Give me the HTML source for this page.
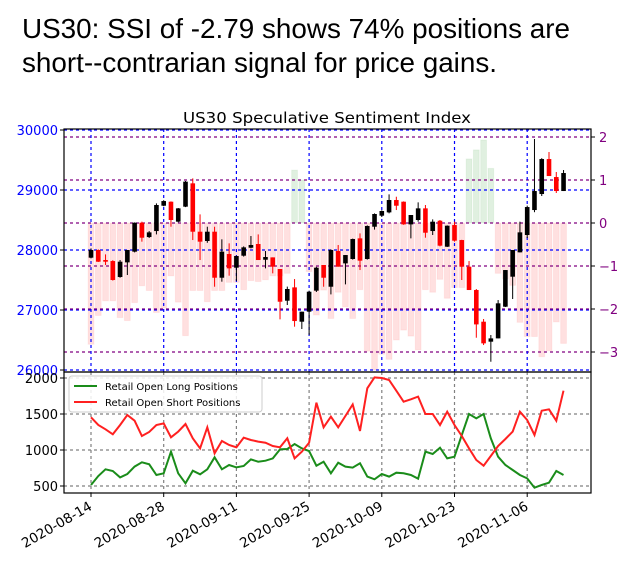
<!DOCTYPE html>
<html><head><meta charset="utf-8"><style>
html,body{margin:0;padding:0;background:#fff;}
svg{display:block;}
</style></head><body>
<svg id="chart" width="629" height="566" xmlns="http://www.w3.org/2000/svg">
<rect width="629" height="566" fill="#fff"/>
<text x="22" y="38" font-family="Liberation Sans, Arial, sans-serif" font-size="28" textLength="548" lengthAdjust="spacingAndGlyphs">US30: SSI of -2.79 shows 74% positions are</text>
<text x="22" y="72" font-family="Liberation Sans, Arial, sans-serif" font-size="28" textLength="475" lengthAdjust="spacingAndGlyphs">short--contrarian signal for price gains.</text>
<text x="327" y="123" text-anchor="middle" font-family="DejaVu Sans, sans-serif" font-size="15" textLength="288" lengthAdjust="spacingAndGlyphs">US30 Speculative Sentiment Index</text>
<g id="upper"></g>
<g id="lower"></g>
</svg>
<script>
const tickLabels = ["2020-08-14","2020-08-28","2020-09-11","2020-09-25","2020-10-09","2020-10-23","2020-11-06"];
const tickIdx = [0,10,20,30,40,50,60];
const priceTicks = [30000,29000,28000,27000,26000];
const ssiTicks = [2,1,0,-1,-2,-3];
const posTicks = [2000,1500,1000,500];
const opens = [27872,28000,27833,27816,27550,27794,27972,28455,28216,28316,28738,28805,28472,28722,29111,28305,28150,28305,27538,27933,27705,27905,28038,28100,27838,27877,27683,27155,27377,26805,26972,27322,27750,27388,27983,27777,27850,28194,27850,28388,28572,28627,28833,28805,28427,28500,28694,28316,28488,28055,28416,28166,27722,27333,26805,26472,26527,27055,27555,27961,28250,28666,28933,29516,29216,28983];
const closes = [28000,27805,27805,27500,27805,28000,28455,28205,28294,28750,28816,28500,28694,29139,28305,28139,28305,27538,27972,27694,27900,28044,28083,27833,27883,27722,27138,27350,26816,26972,27305,27705,27538,28000,27722,27916,28183,27822,28400,28600,28650,28833,28738,28427,28583,28694,28288,28472,28072,28405,28155,27722,27333,26760,26444,26527,27111,27666,28000,28294,28716,28983,29516,29233,28983,29283];
const highs = [28027,28010,27927,27830,27833,28000,28460,28472,28316,28777,28830,28810,28700,29150,29194,28594,28388,28388,28178,28111,27905,28060,28233,28260,27983,27877,27683,27390,27516,26972,27322,27720,27750,28010,28083,27916,28190,28277,28410,28610,28660,28927,28888,28810,28583,28794,28750,28510,28500,28410,28472,28170,27816,27350,26850,26583,27166,27666,28000,28472,28740,29850,29530,29633,29300,29333];
const lows = [27861,27800,27750,27490,27538,27583,27960,28139,28200,28260,28730,28388,28460,28715,28166,27833,28120,27388,27472,27572,27483,27890,28027,27833,27694,27611,26844,27083,26722,26683,26583,27300,27388,27260,27722,27427,27840,27666,27840,28340,28550,28611,28666,28420,28194,28472,28205,28250,28060,28050,28139,27500,27333,26538,26416,26138,26527,27050,27183,27961,28200,28630,28900,29233,28950,28983];
const ssi = [-2.82,-2.15,-1.81,-1.81,-2.20,-2.27,-1.85,-1.46,-1.57,-2.08,-1.98,-1.23,-1.84,-2.62,-1.57,-1.57,-1.83,-1.57,-1.57,-1.38,-1.38,-1.55,-1.34,-1.36,-1.32,-1.23,-1.23,-1.17,1.23,1.0,-1.13,-2.14,-1.56,-2.22,-1.61,-1.95,-2.22,-1.55,-2.98,-3.42,-3.05,-3.17,-2.72,-2.49,-2.63,-2.95,-1.55,-1.61,-1.31,-1.75,-1.50,-1.50,1.49,1.70,1.93,1.27,-1.17,-1.30,-1.45,-2.31,-2.64,-2.64,-3.11,-2.97,-2.30,-2.80];
const longPos = [514,639,732,708,620,667,769,829,801,653,676,977,676,537,713,662,732,898,732,792,759,778,870,838,852,884,1009,1014,1083,1023,986,782,838,676,824,769,755,815,630,593,667,630,685,676,653,602,977,944,1032,884,907,1208,1500,1440,1500,1162,907,792,722,653,606,477,514,546,708,653];
const shortPos = [1454,1347,1287,1218,1347,1486,1407,1194,1250,1347,1370,1176,1255,1361,1162,1023,1315,954,1125,1069,1037,1171,1139,1116,1102,1055,1037,1162,884,977,1102,1657,1315,1463,1315,1472,1634,1264,1857,2009,2000,1972,1824,1671,1704,1741,1500,1500,1347,1532,1347,1194,1023,861,782,917,1055,1153,1255,1532,1417,1208,1546,1565,1407,1824];

const NS="http://www.w3.org/2000/svg";
const X0=64,X1=591,UT=129,UB=372,LB=493;
function xs(i){return 91+7.27*i;}
function yp(p){return 250-(p-28000)*0.06;}
function ys(s){return 223-43*s;}
function yl(v){return 486-(v-500)*0.072;}
function mk(parent,tag,attrs){const e=document.createElementNS(NS,tag);for(const k in attrs)e.setAttribute(k,attrs[k]);parent.appendChild(e);return e;}
const up=document.getElementById('upper'), lo=document.getElementById('lower');

ssi.forEach((s,i)=>{
  const y0=ys(0),y1=ys(s);
  const r=mk(up,'rect',{x:xs(i)-2.9,y:Math.min(y0,y1),width:5.8,height:Math.abs(y1-y0),fill:s<0?'rgba(255,0,0,0.12)':'rgba(0,128,0,0.12)',stroke:s<0?'rgba(255,0,0,0.06)':'rgba(0,128,0,0.06)'});
  
  
});
priceTicks.forEach(p=>{
  const l=mk(up,'line',{x1:X0,x2:X1,y1:yp(p),y2:yp(p),stroke:'#0000ff','stroke-width':1.2,'stroke-dasharray':'3,3'});
  
  
  const t=mk(up,'text',{x:58,y:yp(p)+5,'text-anchor':'end',fill:'#0000ff','font-family':'DejaVu Sans, sans-serif','font-size':13});
  t.textContent=p;
  
  
  mk(up,'line',{x1:X0-4,x2:X0,y1:yp(p),y2:yp(p),stroke:'#000'});
});
ssiTicks.forEach(s=>{
  const l=mk(up,'line',{x1:X0,x2:X1,y1:ys(s),y2:ys(s),stroke:'#800080','stroke-width':1.2,'stroke-dasharray':'3,3'});
  
  
  const t=mk(up,'text',{x:599,y:ys(s)+5,fill:'#800080','font-family':'DejaVu Sans, sans-serif','font-size':13});
  t.textContent=s<0?'\u2212'+(-s):s;
  
  
  mk(up,'line',{x1:X1,x2:X1+4,y1:ys(s),y2:ys(s),stroke:'#000'});
});
tickIdx.forEach((ix,k)=>{
  const x=xs(ix);
  const l=mk(up,'line',{x1:x,x2:x,y1:UT,y2:UB,stroke:'#0000ff','stroke-width':1.2,'stroke-dasharray':'3,3'});
  
  
  const l2=mk(lo,'line',{x1:x,x2:x,y1:UB,y2:LB,stroke:'#808080','stroke-width':1.2,'stroke-dasharray':'3,3'});
  
  
  mk(lo,'line',{x1:x,x2:x,y1:LB,y2:LB+4,stroke:'#000'});
  const t=mk(lo,'text',{x:x+2,y:LB+16,'text-anchor':'end',transform:`rotate(-30 ${x+2} ${LB+16})`,'font-family':'DejaVu Sans, sans-serif','font-size':13.5});
  t.textContent=tickLabels[k];
  
  
});
opens.forEach((o,i)=>{
  const c=closes[i],x=xs(i),col=c>=o?'#000':'#ff0000';
  const w=mk(up,'line',{x1:x,x2:x,y1:yp(highs[i]),y2:yp(lows[i]),stroke:col,'stroke-width':1});
  
  
  const top=yp(Math.max(o,c)),h=Math.max(1,Math.abs(yp(o)-yp(c)));
  const b=mk(up,'rect',{x:x-2.3,y:top,width:4.6,height:h,fill:col});
  
  
});
mk(up,'rect',{x:X0,y:UT,width:X1-X0,height:UB-UT,fill:'none',stroke:'#000','stroke-width':1.2});

posTicks.forEach(v=>{
  const l=mk(lo,'line',{x1:X0,x2:X1,y1:yl(v),y2:yl(v),stroke:'#808080','stroke-width':1.2,'stroke-dasharray':'3,3'});
  
  
  mk(lo,'line',{x1:X0-4,x2:X0,y1:yl(v),y2:yl(v),stroke:'#000'});
  const t=mk(lo,'text',{x:58,y:yl(v)+5,'text-anchor':'end','font-family':'DejaVu Sans, sans-serif','font-size':13});
  t.textContent=v;
  
  
});
function path(arr){return arr.map((v,i)=>(i?'L':'M')+xs(i).toFixed(1)+','+yl(v).toFixed(1)).join('');}
const gl=mk(lo,'path',{d:path(longPos),fill:'none',stroke:'#1a8c1a','stroke-width':2});


const rl=mk(lo,'path',{d:path(shortPos),fill:'none',stroke:'#ff2020','stroke-width':2});


mk(lo,'rect',{x:X0,y:UB,width:X1-X0,height:LB-UB,fill:'none',stroke:'#000','stroke-width':1.2});
const lg=mk(lo,'g',{});


mk(lg,'rect',{x:69,y:376,width:193,height:36,rx:3,fill:'rgba(255,255,255,0.85)',stroke:'#ccc'});
mk(lg,'line',{x1:74,x2:97,y1:386,y2:386,stroke:'#1a8c1a','stroke-width':2});
mk(lg,'line',{x1:74,x2:97,y1:402,y2:402,stroke:'#ff2020','stroke-width':2});
const t1=mk(lg,'text',{x:105,y:390,'font-family':'DejaVu Sans, sans-serif','font-size':10});
t1.textContent='Retail Open Long Positions';


const t2=mk(lg,'text',{x:105,y:406,'font-family':'DejaVu Sans, sans-serif','font-size':10});
t2.textContent='Retail Open Short Positions';


</script>
</body></html>
